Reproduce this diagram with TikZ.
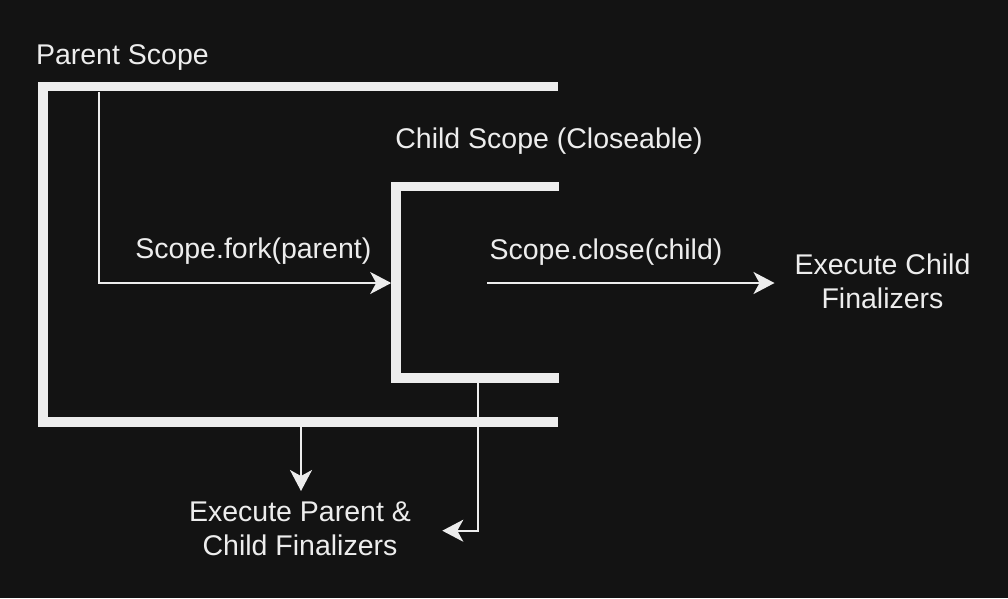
\documentclass[tikz,border=0pt]{standalone}
\usepackage{fontspec}
\setmainfont{Liberation Sans}
\usetikzlibrary{arrows.meta}
\definecolor{bg}{HTML}{131313}
\definecolor{ink}{HTML}{EDEDED}

\begin{document}
\begin{tikzpicture}[x=1pt,y=-1pt,
    lbl/.style={text=ink, font=\fontsize{28.5}{34}\selectfont, inner sep=0pt, anchor=base, align=center},
    bracket/.style={draw=ink, line width=9.5pt},
    flow/.style={draw=ink, line width=2pt, -{Stealth[length=21pt,width=22pt,inset=6pt]}}]
    \fill[bg] (0,0) rectangle (1008,598);
    \useasboundingbox (0,0) rectangle (1008,598);
    %Scopes
    \coordinate (pTR) at (558,86.7);
    \coordinate (pTL) at (43,86.7);
    \coordinate (pBL) at (43,422);
    \coordinate (pBR) at (558,422);
    \coordinate (cTR) at (559,186.3);
    \coordinate (cTL) at (396,186.3);
    \coordinate (cBL) at (396,378);
    \coordinate (cBR) at (559,378);
    \draw[bracket] (pTR) -- (pTL) -- (pBL) -- (pBR);
    \draw[bracket] (cTR) -- (cTL) -- (cBL) -- (cBR);
    %Labels
    \node[lbl] (parentLbl) at (122.4,64.3) {Parent Scope};
    \node[lbl] (childLbl) at (549,148.3) {Child Scope (Closeable)};
    \node[lbl] (forkLbl) at (253.3,258.3) {Scope.fork(parent)};
    \node[lbl] (closeLbl) at (606,259) {Scope.close(child)};
    \node[lbl] (childFin) at (882.5,308.3) {Execute Child\\Finalizers};
    \node[lbl] (parentFin) at (300,555) {Execute Parent \&\\Child Finalizers};
    %Lines
    \coordinate (forkStart) at (99,91.5);
    \coordinate (forkEnd) at (391.2,283);
    \coordinate (closeStart) at (487,283);
    \coordinate (closeEnd) at (774.5,283);
    \coordinate (pDown) at (301,427);
    \coordinate (pDownEnd) at (301,491);
    \coordinate (cDown) at (478,382.7);
    \coordinate (cDownEnd) at (442.3,530.7);
    \draw[flow] (forkStart) |- (forkEnd);
    \draw[flow] (closeStart) -- (closeEnd);
    \draw[flow] (pDown) -- (pDownEnd);
    \draw[flow] (cDown) |- (cDownEnd);
\end{tikzpicture}
\end{document}
